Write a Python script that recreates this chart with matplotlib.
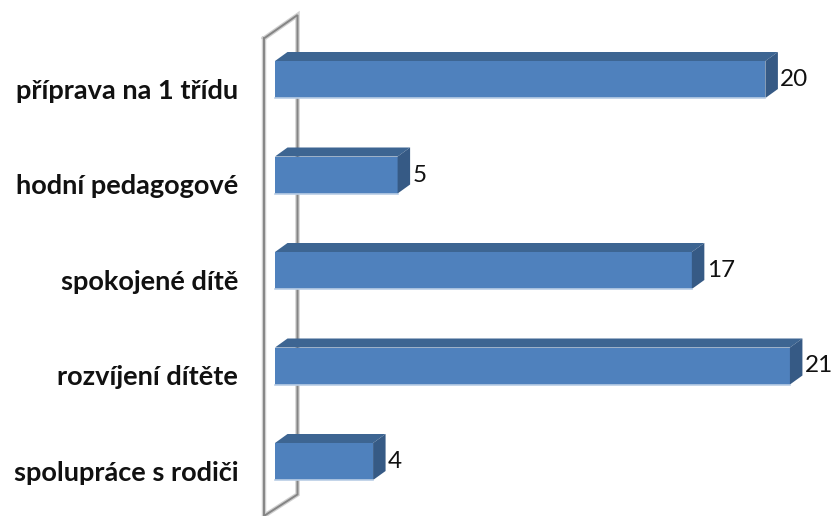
import numpy as np
import matplotlib
matplotlib.use("Agg")
import matplotlib.pyplot as plt
from matplotlib.patches import Polygon, Rectangle

plt.rcParams['font.family'] = ['Lato', 'DejaVu Sans']

# survey answers, top to bottom
categories = ["příprava na 1 třídu", "hodní pedagogové", "spokojené dítě",
              "rozvíjení dítěte", "spolupráce s rodiči"]
values = [20, 5, 17, 21, 4]

front_col = "#4f81bd"
top_col = "#3d6592"
side_col = "#365a85"
edge_col = "#b9cde5"

fig = plt.figure(figsize=(8.34, 5.16), dpi=100)
ax = fig.add_axes([0, 0, 1, 1])
unit_px = 24.52   # pixels per value unit
step_px = 95.5    # pixels between bars
ax.set_xlim(-275 / unit_px, (834 - 275) / unit_px)
ax.set_ylim((516 - 79.5) / step_px, -79.5 / step_px)
ax.axis("off")

# pseudo-3d depth offsets (data units)
dx = 12.5 / unit_px
dy = 9 / step_px
h = 37 / step_px

# back wall outline
wl, wr = -11 / unit_px, 22.5 / unit_px
wall_x = [wl, wr, wr, wl, wl]
wall_y = [-0.43, -0.675, 4.345, 4.57, -0.43]
ax.plot(wall_x, wall_y, color="#cfcfcf", lw=3.2, solid_joinstyle="miter", zorder=1)
ax.plot(wall_x, wall_y, color="#858585", lw=1.4, solid_joinstyle="miter", zorder=1.1)

ys = np.arange(len(categories))
for y, v, name in zip(ys, values, categories):
    t, b = y - h / 2, y + h / 2
    ax.add_patch(Rectangle((0, t), v, h, facecolor=front_col, edgecolor="none", zorder=3))
    ax.add_patch(Polygon([(0, t), (dx, t - dy), (v + dx, t - dy), (v, t)],
                         closed=True, facecolor=top_col, edgecolor="none", zorder=3))
    ax.add_patch(Polygon([(v, t), (v + dx, t - dy), (v + dx, b - dy), (v, b)],
                         closed=True, facecolor=side_col, edgecolor="none", zorder=3))
    ax.plot([0, v], [b, b], color=edge_col, lw=1.2, zorder=3.5)
    ax.text(v + dx + 0.1, y, str(v), ha="left", va="center",
            fontsize=17.5, color="#111111", zorder=4)
    ax.text(-37 / unit_px, y + 0.12, name, ha="right", va="center",
            fontsize=19.5, fontweight="bold", color="#111111", zorder=4)

fig.savefig("out.png", dpi=100)
